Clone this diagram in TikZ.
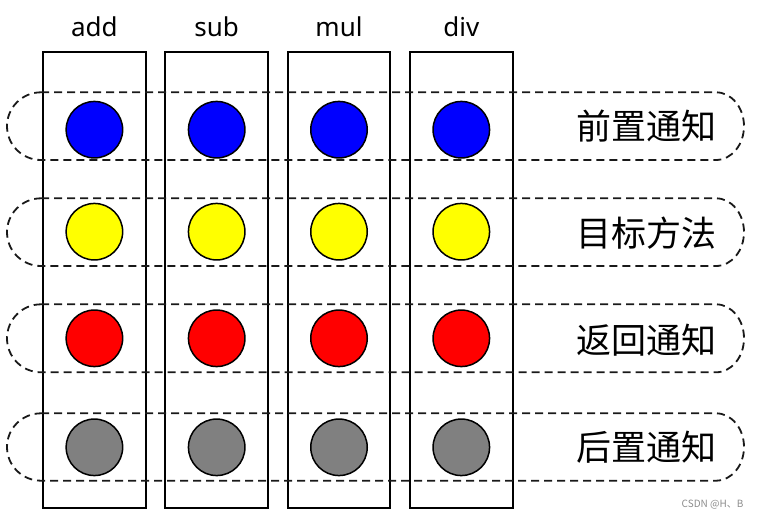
\documentclass[tikz,border=0pt]{standalone}
\usepackage{fontspec}
\setmainfont{Noto Sans}
\newfontfamily\cjk{Noto Sans CJK SC}
\definecolor{pureyellow}{RGB}{255,255,0}
\definecolor{pureblue}{RGB}{0,0,255}
\definecolor{purered}{RGB}{255,0,0}
\definecolor{midgrey}{RGB}{128,128,128}
\begin{document}
\begin{tikzpicture}[x=1pt,y=-1pt,
  colbox/.style={draw=black,line width=2pt,minimum width=102.5pt,minimum height=456.6pt,inner sep=0pt},
  dot/.style={circle,draw=black,line width=1.5pt,minimum size=56.5pt,inner sep=0pt},
  rowline/.style={draw=black!90,line width=1.8pt,dash pattern=on 8pt off 5pt},
  head/.style={font=\fontsize{26}{26}\selectfont,anchor=base},
  rowlabel/.style={font=\cjk\fontsize{35}{35}\selectfont,anchor=center}]
\useasboundingbox (0,0) rectangle (764,519);
% columns
\foreach \i/\n in {0/add,1/sub,2/mul,3/div}{
  \node[colbox] (col\n) at ({94.4+122.3*\i},280) {};
  \node[head] (h\n) at ({94.4+122.3*\i},37) {\n};
}
% dashed rows
\foreach \k/\t/\b in {1/92.3/160,2/198.3/266,3/304.3/372.3,4/413.3/480.7}{
  \pgfmathsetmacro{\r}{(\b-\t)/2}
  \draw[rowline] (41,\t) -- (716,\t)
     arc[start angle=-90,end angle=90,x radius=28,y radius=\r] -- (41,\b)
     arc[start angle=90,end angle=270,x radius=34,y radius=\r];
}
% circles
\foreach \i/\n in {0/add,1/sub,2/mul,3/div}{
  \node[dot,fill=pureblue] (b\n) at ({94.4+122.3*\i},129.7) {};
  \node[dot,fill=pureyellow] (y\n) at ({94.4+122.3*\i},231.7) {};
  \node[dot,fill=purered] (r\n) at ({94.4+122.3*\i},338.3) {};
  \node[dot,fill=midgrey] (g\n) at ({94.4+122.3*\i},447.3) {};
}
\node[rowlabel] (l1) at (646,126) {前置通知};
\node[rowlabel] (l2) at (646,233) {目标方法};
\node[rowlabel] (l3) at (646,340) {返回通知};
\node[rowlabel] (l4) at (646,447) {后置通知};
\node[font=\cjk\fontsize{10}{10}\selectfont,text=black!45,anchor=east] (wm) at (747,505) {CSDN @H、B};
\end{tikzpicture}
\end{document}
